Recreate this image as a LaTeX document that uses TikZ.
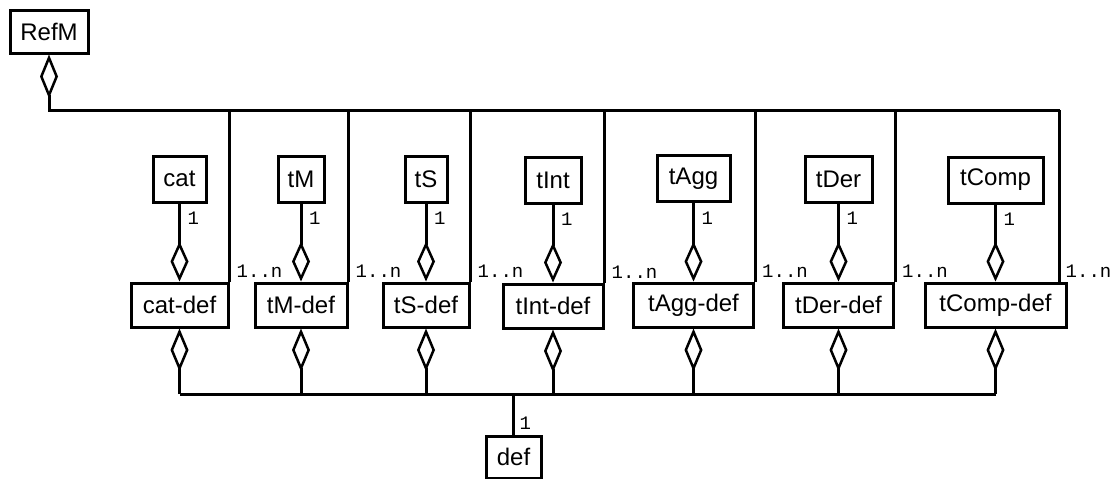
\documentclass[tikz,border=0pt]{standalone}
\usepackage{fontspec}
\setmainfont{Liberation Sans}
\setmonofont{Liberation Mono}
\usetikzlibrary{arrows.meta,calc}
\tikzset{
  cls/.style={draw, line width=3pt, inner sep=0pt, font=\fontsize{24}{24}\selectfont, fill=white},
  mult/.style={inner sep=0pt, font=\ttfamily\fontsize{19}{19}\selectfont},
  wire/.style={line width=3pt},
  agg/.style={wire, -{Diamond[fill=white, length=40pt, width=18pt, line width=2.5pt]}},
}
\begin{document}
\begin{tikzpicture}[x=1pt,y=-1pt]
\useasboundingbox (0,0) rectangle (1120,479);
% top level
\node[cls, minimum width=78pt, minimum height=43pt] (refm) at (49,31.5) {RefM};
% classes
\node[cls, minimum width=53pt, minimum height=46pt] (cat) at (179.5,179) {cat};
\node[cls, minimum width=46pt, minimum height=46pt] (tm) at (301,179) {tM};
\node[cls, minimum width=42pt, minimum height=46pt] (ts) at (426,179) {tS};
\node[cls, minimum width=56pt, minimum height=46pt] (tint) at (553,180) {tInt};
\node[cls, minimum width=73pt, minimum height=46pt] (tagg) at (693.5,178.5) {tAgg};
\node[cls, minimum width=67pt, minimum height=46pt] (tder) at (838.5,179) {tDer};
\node[cls, minimum width=95pt, minimum height=46pt] (tcomp) at (995.5,180) {tComp};
% def classes
\node[cls, minimum width=97pt, minimum height=44pt] (catdef) at (179.5,305) {cat-def};
\node[cls, minimum width=92pt, minimum height=44pt] (tmdef) at (301,305) {tM-def};
\node[cls, minimum width=86pt, minimum height=44pt] (tsdef) at (426,305) {tS-def};
\node[cls, minimum width=100pt, minimum height=44pt] (tintdef) at (553,306) {tInt-def};
\node[cls, minimum width=120pt, minimum height=44pt] (taggdef) at (693.5,305) {tAgg-def};
\node[cls, minimum width=110pt, minimum height=44pt] (tderdef) at (838.5,305) {tDer-def};
\node[cls, minimum width=141pt, minimum height=44pt] (tcompdef) at (995.5,305) {tComp-def};
% def
\node[cls, minimum width=55pt, minimum height=42pt] (def) at (513.5,457) {def};
% coordinates
\coordinate (topbus) at (0,110);
\coordinate (botbus) at (0,394);
\coordinate (tcompcorner) at ($(tcompdef.north east)+(-8,0)$);
% RefM aggregation bus
\draw[wire, {Diamond[fill=white, length=44pt, width=18pt, line width=2.5pt]}-] (refm.south) |- (tcompcorner |- topbus);
\foreach \n in {catdef,tmdef,tsdef,tintdef,taggdef,tderdef}{
  \draw[wire] (\n.north east |- topbus) -- (\n.north east);
  \node[mult, anchor=south west] at ($(\n.north east)+(7,-4)$) {1..n};
}
\draw[wire] (tcompcorner |- topbus) -- (tcompcorner);
\node[mult, anchor=south west] at ($(tcompcorner)+(6,-4)$) {1..n};
% class to def aggregations
\foreach \c/\d in {cat/catdef,tm/tmdef,ts/tsdef,tint/tintdef,tagg/taggdef,tder/tderdef,tcomp/tcompdef}{
  \draw[agg] (\c.south) -- (\c.south |- \d.north);
  \node[mult, anchor=west] at ($(\c.south)+(8,15)$) {1};
  \draw[agg, -{Diamond[fill=white, length=43pt, width=18pt, line width=2.5pt]}] (\d.south |- botbus) -- (\d.south);
}
% bottom bus
\draw[wire] (catdef.south |- botbus) -- (tcompdef.south |- botbus);
\draw[wire] (def.north |- botbus) -- (def.north);
\node[mult, anchor=south west] at ($(def.north)+(6,-5)$) {1};
\end{tikzpicture}
\end{document}
